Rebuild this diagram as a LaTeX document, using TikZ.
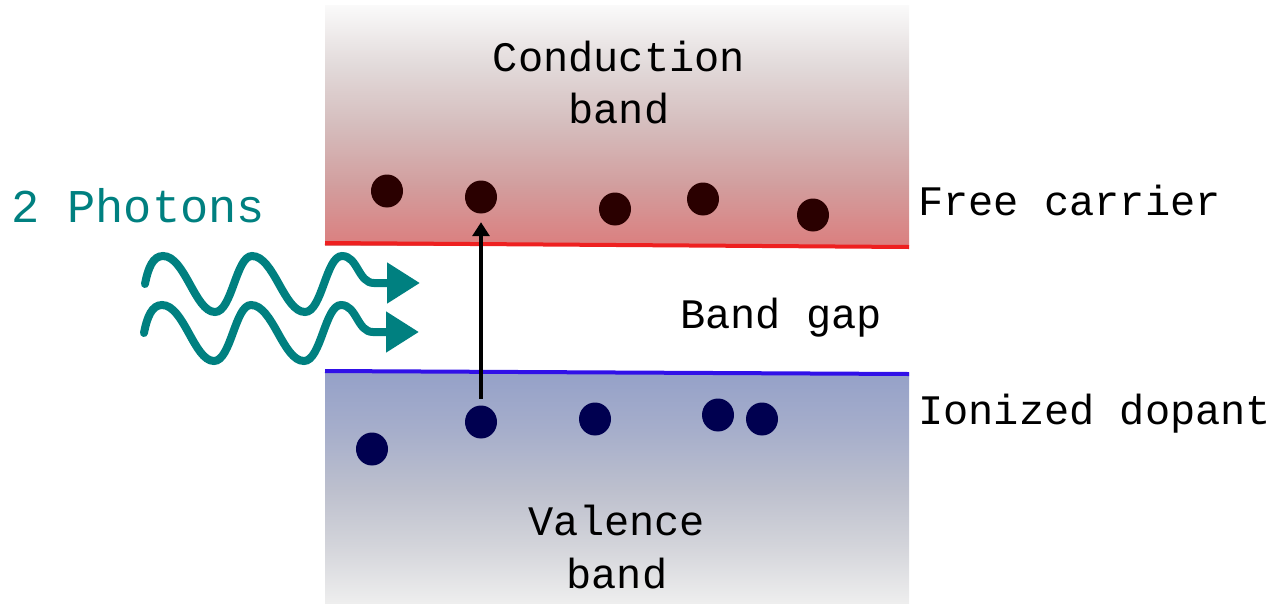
\documentclass[tikz,border=0pt]{standalone}
\usepackage{fontspec}
\newfontfamily\monofnt{Liberation Mono}
\usetikzlibrary{arrows.meta,shapes.geometric}
\definecolor{tealw}{HTML}{008080}
\definecolor{cbA}{HTML}{FAFAFA}
\definecolor{cbB}{HTML}{E2DADA}
\definecolor{cbC}{HTML}{D5BDBD}
\definecolor{cbD}{HTML}{D29E9E}
\definecolor{cbE}{HTML}{DB7F7F}
\definecolor{vbA}{HTML}{95A1C8}
\definecolor{vbB}{HTML}{A6AECB}
\definecolor{vbC}{HTML}{BCBFCD}
\definecolor{vbD}{HTML}{D3D4DA}
\definecolor{vbE}{HTML}{EEEEEE}
\definecolor{redline}{HTML}{EE2020}
\definecolor{blueline}{HTML}{3010E8}
\definecolor{freedot}{HTML}{2A0000}
\definecolor{iondot}{HTML}{000050}
\pgfdeclareverticalshading{cbshade}{100bp}{color(0bp)=(cbE); color(25bp)=(cbE); color(37.5bp)=(cbD); color(50bp)=(cbC); color(62.5bp)=(cbB); color(75bp)=(cbA); color(100bp)=(cbA)}
\pgfdeclareverticalshading{vbshade}{100bp}{color(0bp)=(vbE); color(25bp)=(vbE); color(37.5bp)=(vbD); color(50bp)=(vbC); color(62.5bp)=(vbB); color(75bp)=(vbA); color(100bp)=(vbA)}
\tikzset{
  lbl/.style={font=\monofnt\fontsize{42}{52}\selectfont, inner sep=0pt, align=center},
  photon/.style={draw=tealw, line width=8pt, line cap=round, -{Triangle[length=33pt,width=39pt]}},
  freec/.style={ellipse, fill=freedot, minimum width=32pt, minimum height=33pt, inner sep=0pt},
  iond/.style={ellipse, fill=iondot, minimum width=32pt, minimum height=33pt, inner sep=0pt},
  excite/.style={line width=3.3pt, -{Triangle[length=14pt,width=17pt]}, shorten >=8.5pt, shorten <=6.5pt}
}
\begin{document}
\begin{tikzpicture}[x=1pt,y=-1pt]
\useasboundingbox (0,0) rectangle (1274,603);
% bands
\shade[shading=cbshade] (325,5) rectangle (909,245);
\shade[shading=vbshade] (325,373) rectangle (909,603);
\draw[redline, line width=4pt] (325,243) -- (909,247);
\draw[blueline, line width=4pt] (325,371) -- (909,374);
% texts
\node[lbl, anchor=base] (cb1) at (619,71) {Conduction};
\node[lbl, anchor=base] (cb2) at (619,123) {band};
\node[lbl, anchor=base] (vb1) at (617,535) {Valence};
\node[lbl, anchor=base] (vb2) at (617,588) {band};
\node[lbl, anchor=base] (gap) at (781,328) {Band gap};
\node[lbl, anchor=base west] (fc) at (918,215) {Free carrier};
\node[lbl, anchor=base west] (id) at (918,424) {Ionized dopant};
\node[lbl, anchor=base west, text=tealw, font=\monofnt\fontsize{47}{56}\selectfont] (ph) at (11,222) {2 Photons};
% free carriers
\node[freec] (c1) at (387,191) {};
\node[freec] (c2) at (481,197) {};
\node[freec] (c3) at (615,209) {};
\node[freec] (c4) at (703,199) {};
\node[freec] (c5) at (813,215) {};
% ionized dopants
\node[iond] (d1) at (372,449) {};
\node[iond] (d2) at (481,422) {};
\node[iond] (d3) at (595,419) {};
\node[iond] (d4) at (718,415) {};
\node[iond] (d5) at (762,419) {};
% excitation arrow
\draw[excite] (d2) -- (c2);
% photons
\draw[photon] (145,284) .. controls (148,268) and (153,256) .. (163,256)
  .. controls (185,256) and (195,312) .. (215,312)
  .. controls (232,312) and (236,256) .. (252,256)
  .. controls (274,256) and (284,312) .. (305,312)
  .. controls (322,312) and (326,256) .. (342,256)
  .. controls (358,256) and (358,283) .. (374,283) -- (420,283);
\begin{scope}[shift={(-1,49)}]
\draw[photon] (145,284) .. controls (148,268) and (153,256) .. (163,256)
  .. controls (185,256) and (195,312) .. (215,312)
  .. controls (232,312) and (236,256) .. (252,256)
  .. controls (274,256) and (284,312) .. (305,312)
  .. controls (322,312) and (326,256) .. (342,256)
  .. controls (358,256) and (358,283) .. (374,283) -- (420,283);
\end{scope}
\end{tikzpicture}
\end{document}
